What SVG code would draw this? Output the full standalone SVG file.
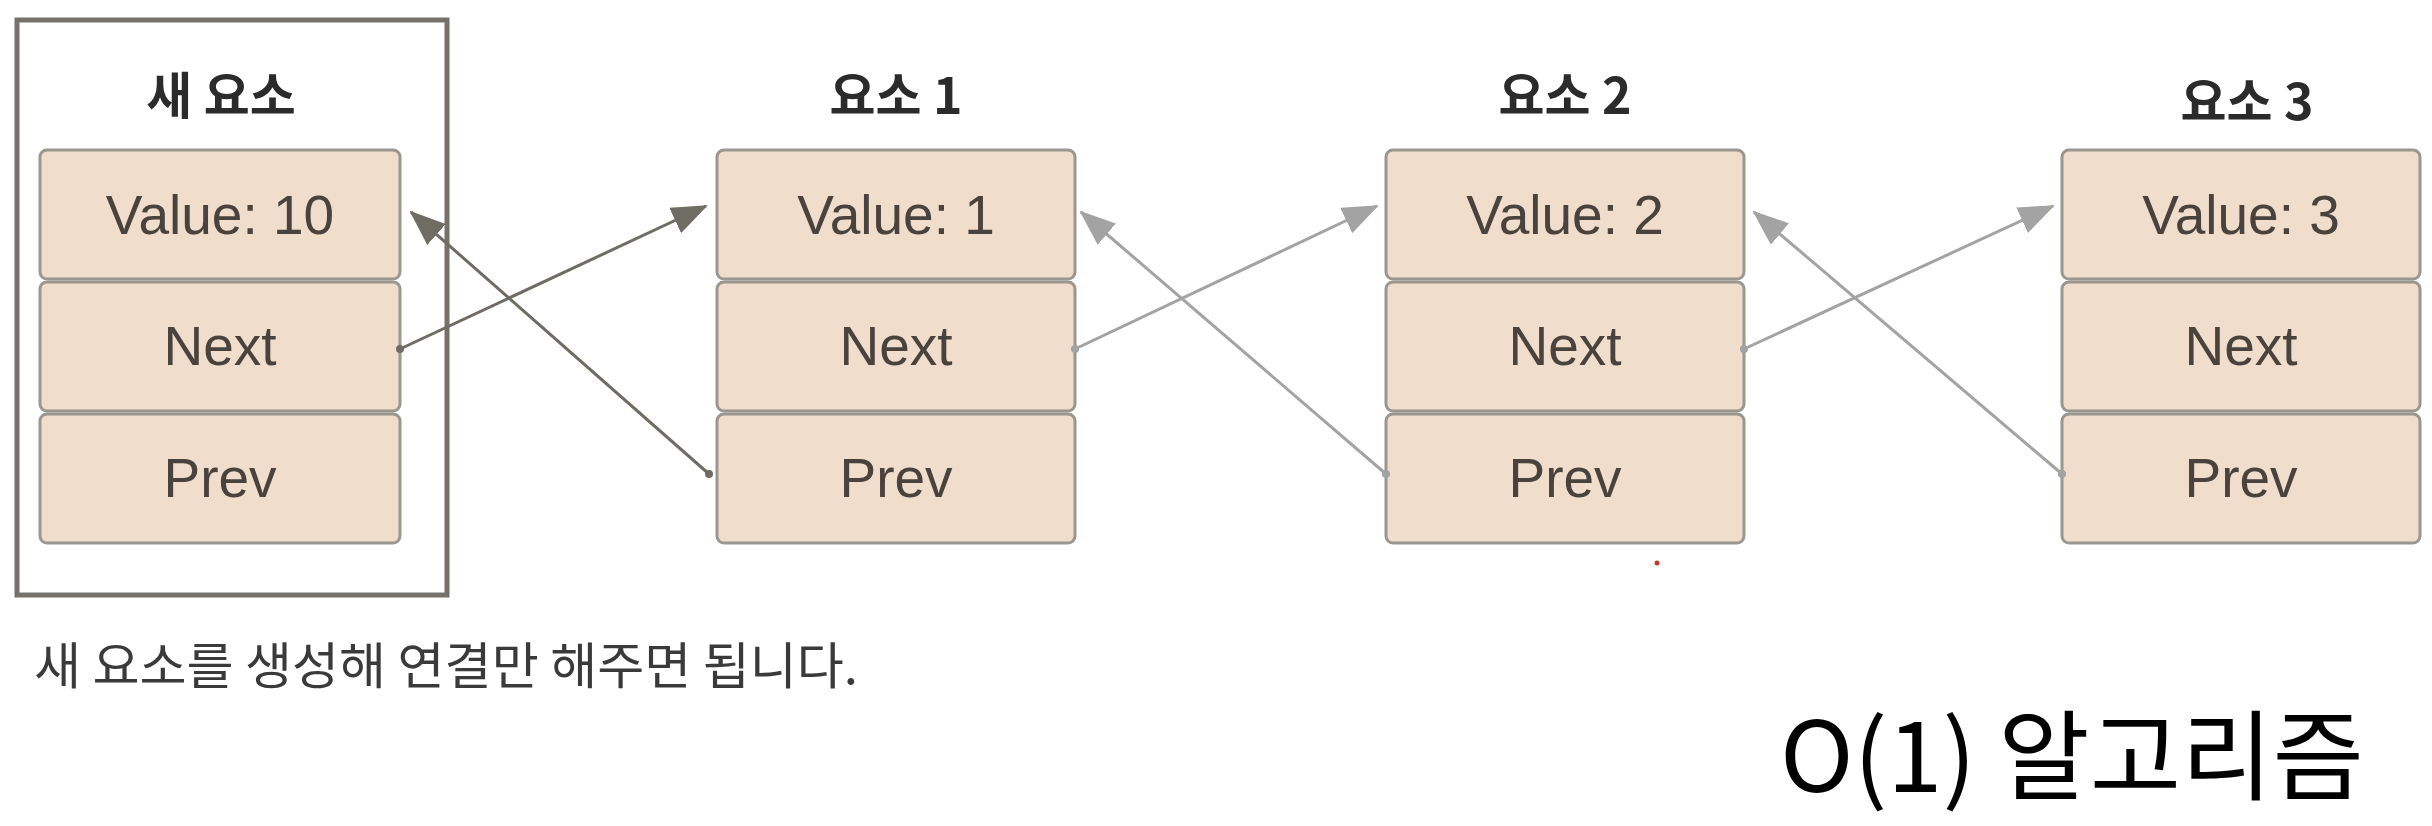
<svg xmlns="http://www.w3.org/2000/svg" width="2432" height="826" viewBox="0 0 2432 826">
<style>
.cell{fill:#f0ddcc;stroke:#9a9690;stroke-width:3}
.ct{font-family:"Liberation Sans","Noto Sans CJK KR",sans-serif;font-size:55px;fill:#4a423c;text-anchor:middle}
.title{font-family:"Noto Sans CJK KR",sans-serif;font-weight:bold;font-size:50px;fill:#2b2b2b;text-anchor:middle}
.dk{stroke:#6f6c64;stroke-width:3;fill:none}
.lt{stroke:#a3a3a3;stroke-width:3;fill:none}
</style>
<defs>
<marker id="ad" markerUnits="userSpaceOnUse" markerWidth="36" markerHeight="28" refX="34" refY="14" orient="auto"><path d="M0,0 L36,14 L0,28 z" fill="#6f6c64"/></marker>
<marker id="al" markerUnits="userSpaceOnUse" markerWidth="36" markerHeight="28" refX="34" refY="14" orient="auto"><path d="M0,0 L36,14 L0,28 z" fill="#a3a3a3"/></marker>
</defs>
<rect width="2432" height="826" fill="#ffffff"/>
<g id="new-node">
<rect x="17" y="20" width="430" height="575" fill="none" stroke="#77716b" stroke-width="5"/>
<text class="title" x="221" y="114">새 요소</text>
<rect class="cell" x="40" y="150" width="360" height="129" rx="7"/>
<rect class="cell" x="40" y="282" width="360" height="129" rx="7"/>
<rect class="cell" x="40" y="414" width="360" height="129" rx="7"/>
<text class="ct" x="220" y="234">Value: 10</text>
<text class="ct" x="220" y="365">Next</text>
<text class="ct" x="220" y="497">Prev</text>
</g>
<g id="node1">
<text class="title" x="896" y="114">요소 1</text>
<rect class="cell" x="717" y="150" width="358" height="129" rx="7"/>
<rect class="cell" x="717" y="282" width="358" height="129" rx="7"/>
<rect class="cell" x="717" y="414" width="358" height="129" rx="7"/>
<text class="ct" x="896" y="234">Value: 1</text>
<text class="ct" x="896" y="365">Next</text>
<text class="ct" x="896" y="497">Prev</text>
</g>
<g id="node2">
<text class="title" x="1565" y="114">요소 2</text>
<rect class="cell" x="1386" y="150" width="358" height="129" rx="7"/>
<rect class="cell" x="1386" y="282" width="358" height="129" rx="7"/>
<rect class="cell" x="1386" y="414" width="358" height="129" rx="7"/>
<text class="ct" x="1565" y="234">Value: 2</text>
<text class="ct" x="1565" y="365">Next</text>
<text class="ct" x="1565" y="497">Prev</text>
</g>
<g id="node3">
<text class="title" x="2247" y="120">요소 3</text>
<rect class="cell" x="2062" y="150" width="358" height="129" rx="7"/>
<rect class="cell" x="2062" y="282" width="358" height="129" rx="7"/>
<rect class="cell" x="2062" y="414" width="358" height="129" rx="7"/>
<text class="ct" x="2241" y="234">Value: 3</text>
<text class="ct" x="2241" y="365">Next</text>
<text class="ct" x="2241" y="497">Prev</text>
</g>
<g id="connectors">
<line class="dk" x1="400" y1="349" x2="706" y2="206" marker-end="url(#ad)"/>
<line class="dk" x1="709" y1="474" x2="411" y2="212" marker-end="url(#ad)"/>
<line class="lt" x1="1075" y1="349" x2="1377" y2="206" marker-end="url(#al)"/>
<line class="lt" x1="1386" y1="474" x2="1081" y2="212" marker-end="url(#al)"/>
<line class="lt" x1="1744" y1="349" x2="2053" y2="206" marker-end="url(#al)"/>
<line class="lt" x1="2062" y1="474" x2="1754" y2="212" marker-end="url(#al)"/>
<circle cx="400" cy="349" r="4" fill="#6f6c64"/>
<circle cx="709" cy="474" r="4" fill="#6f6c64"/>
<circle cx="1075" cy="349" r="4" fill="#a3a3a3"/>
<circle cx="1386" cy="474" r="4" fill="#a3a3a3"/>
<circle cx="1744" cy="349" r="4" fill="#a3a3a3"/>
<circle cx="2062" cy="474" r="4" fill="#a3a3a3"/>
</g>
<circle cx="1657" cy="563" r="2.5" fill="#c0392b"/>
<text x="34" y="684" font-family="Noto Sans CJK KR, sans-serif" font-size="50" fill="#3a3a3a" textLength="824" lengthAdjust="spacingAndGlyphs">새 요소를 생성해 연결만 해주면 됩니다.</text>
<text x="1780" y="792" font-family="Noto Sans CJK KR, sans-serif" font-size="98" fill="#000000" textLength="584" lengthAdjust="spacingAndGlyphs">O(1) 알고리즘</text>
</svg>
